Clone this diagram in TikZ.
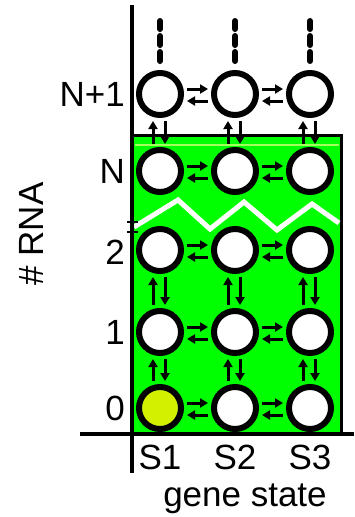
\documentclass[tikz,border=0pt]{standalone}
\usepackage{fontspec}
\setmainfont{Liberation Sans}
\usepackage{xcolor}
\usetikzlibrary{arrows.meta}

\definecolor{gfill}{RGB}{0,255,0}
\definecolor{yfill}{RGB}{210,240,0}
\definecolor{gline}{RGB}{165,255,95}

\begin{document}
\begin{tikzpicture}[
  x=1pt, y=-1pt,
  state/.style={
    draw, circle, line width=6pt, fill=white,
    minimum size=42pt, inner sep=0pt
  },
  arr/.style={-{Triangle[length=8pt,width=9pt]}, line width=3pt,
    shorten <=3pt, shorten >=3pt},
  rgt/.style={arr, transform canvas={yshift=5pt}},
  lft/.style={arr, transform canvas={yshift=-7pt}},
  upa/.style={arr, transform canvas={xshift=-7pt}},
  dna/.style={arr, transform canvas={xshift=5pt}},
  dsh/.style={line width=6pt, line cap=round, dash pattern=on 9pt off 7pt},
  lbl/.style={font=\fontsize{35}{40}\selectfont, inner sep=0pt},
]
\useasboundingbox (0,0) rectangle (354,517);

% green region and break
\draw[line width=3pt, fill=gfill] (132,135) rectangle (341,433);
\draw[gline, line width=1.5pt] (135,145) -- (339,145);
\draw[white, line width=5pt] (134,227) -- (178,200) -- (210,229) -- (244,202)
  -- (277,230) -- (312,204) -- (339,223);

% axes
\draw[line width=4pt] (132,5) -- (132,473);
\draw[line width=4pt] (80,434) -- (354,434);
\draw[line width=1.5pt] (127,222) -- (138,222);
\draw[line width=1.5pt] (127,232) -- (138,232);

% states
\node[state] (s1rp) at (160,94)  {};
\node[state] (s2rp) at (235,94)  {};
\node[state] (s3rp) at (310,94)  {};

\node[state] (s1rn) at (160,171) {};
\node[state] (s2rn) at (235,171) {};
\node[state] (s3rn) at (310,171) {};

\node[state] (s1r2) at (160,250) {};
\node[state] (s2r2) at (235,250) {};
\node[state] (s3r2) at (310,250) {};

\node[state] (s1r1) at (160,332) {};
\node[state] (s2r1) at (235,332) {};
\node[state] (s3r1) at (310,332) {};

\node[state, fill=yfill] (s1r0) at (160,408) {};
\node[state] (s2r0) at (235,408) {};
\node[state] (s3r0) at (310,408) {};

% open end above N+1
\coordinate (t1) at (160,21);
\coordinate (t2) at (235,21);
\coordinate (t3) at (310,21);
\draw[dsh] ([yshift=9pt]s1rp.north) -- (t1);
\draw[dsh] ([yshift=9pt]s2rp.north) -- (t2);
\draw[dsh] ([yshift=9pt]s3rp.north) -- (t3);

% gene state switching
\draw[rgt] (s1rp) -- (s2rp); \draw[lft] (s2rp) -- (s1rp);
\draw[rgt] (s2rp) -- (s3rp); \draw[lft] (s3rp) -- (s2rp);
\draw[rgt] (s1rn) -- (s2rn); \draw[lft] (s2rn) -- (s1rn);
\draw[rgt] (s2rn) -- (s3rn); \draw[lft] (s3rn) -- (s2rn);
\draw[rgt] (s1r2) -- (s2r2); \draw[lft] (s2r2) -- (s1r2);
\draw[rgt] (s2r2) -- (s3r2); \draw[lft] (s3r2) -- (s2r2);
\draw[rgt] (s1r1) -- (s2r1); \draw[lft] (s2r1) -- (s1r1);
\draw[rgt] (s2r1) -- (s3r1); \draw[lft] (s3r1) -- (s2r1);
\draw[rgt] (s1r0) -- (s2r0); \draw[lft] (s2r0) -- (s1r0);
\draw[rgt] (s2r0) -- (s3r0); \draw[lft] (s3r0) -- (s2r0);

% RNA birth and decay
\draw[upa] (s1rn) -- (s1rp); \draw[dna] (s1rp) -- (s1rn);
\draw[upa] (s2rn) -- (s2rp); \draw[dna] (s2rp) -- (s2rn);
\draw[upa] (s3rn) -- (s3rp); \draw[dna] (s3rp) -- (s3rn);
\draw[upa] (s1r1) -- (s1r2); \draw[dna] (s1r2) -- (s1r1);
\draw[upa] (s2r1) -- (s2r2); \draw[dna] (s2r2) -- (s2r1);
\draw[upa] (s3r1) -- (s3r2); \draw[dna] (s3r2) -- (s3r1);
\draw[upa] (s1r0) -- (s1r1); \draw[dna] (s1r1) -- (s1r0);
\draw[upa] (s2r0) -- (s2r1); \draw[dna] (s2r1) -- (s2r0);
\draw[upa] (s3r0) -- (s3r1); \draw[dna] (s3r1) -- (s3r0);

% labels
\node[lbl, anchor=east] (lp) at (125,94)  {N+1};
\node[lbl, anchor=east] (ln) at (125,171) {N};
\node[lbl, anchor=east] (l2) at (125,252) {2};
\node[lbl, anchor=east] (l1) at (125,332) {1};
\node[lbl, anchor=east] (l0) at (125,408) {0};
\node[lbl, rotate=90] (yax) at (31,234) {\# RNA};

\node[lbl, anchor=base] (g1) at (160,469) {S1};
\node[lbl, anchor=base] (g2) at (235,469) {S2};
\node[lbl, anchor=base] (g3) at (310,469) {S3};
\node[lbl, anchor=base] (xax) at (245,506) {gene state};

\end{tikzpicture}
\end{document}
